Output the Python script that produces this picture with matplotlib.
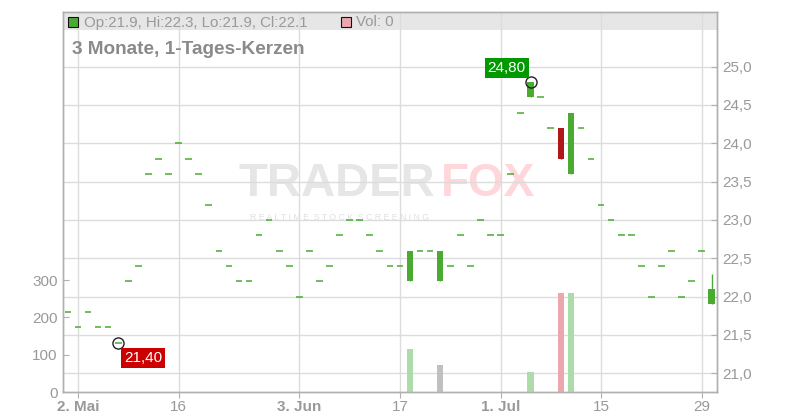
import matplotlib
matplotlib.use("Agg")
import matplotlib.pyplot as plt
from matplotlib.patches import Rectangle
import numpy as np

plt.rcParams['font.family'] = ['Liberation Sans', 'DejaVu Sans']

# ---- data (one entry per trading day, 30 Apr 2024 .. 30 Jul 2024) ----
opens = [21.8, 21.6, 21.8, 21.6, 21.6, 21.4, 22.2, 22.4, 23.6, 23.8, 23.6, 24.0, 23.8,
         23.6, 23.2, 22.6, 22.4, 22.2, 22.2, 22.8, 23.0, 22.6, 22.4, 22.0, 22.6, 22.2,
         22.4, 22.8, 23.0, 23.0, 22.8, 22.6, 22.4, 22.4, 22.2, 22.6, 22.6, 22.2, 22.4,
         22.8, 22.4, 23.0, 22.8, 22.8, 23.6, 24.4, 24.6, 24.6, 24.2, 24.2, 23.6, 24.2,
         23.8, 23.2, 23.0, 22.8, 22.8, 22.4, 22.0, 22.4, 22.6, 22.0, 22.2, 22.6, 21.9]
highs = [21.8, 21.6, 21.8, 21.6, 21.6, 21.4, 22.2, 22.4, 23.6, 23.8, 23.6, 24.0, 23.8,
         23.6, 23.2, 22.6, 22.4, 22.2, 22.2, 22.8, 23.0, 22.6, 22.4, 22.0, 22.6, 22.2,
         22.4, 22.8, 23.0, 23.0, 22.8, 22.6, 22.4, 22.4, 22.6, 22.6, 22.6, 22.6, 22.4,
         22.8, 22.4, 23.0, 22.8, 22.8, 23.6, 24.4, 24.8, 24.6, 24.2, 24.2, 24.4, 24.2,
         23.8, 23.2, 23.0, 22.8, 22.8, 22.4, 22.0, 22.4, 22.6, 22.0, 22.2, 22.6, 22.3]
lows = [21.8, 21.6, 21.8, 21.6, 21.6, 21.4, 22.2, 22.4, 23.6, 23.8, 23.6, 24.0, 23.8,
        23.6, 23.2, 22.6, 22.4, 22.2, 22.2, 22.8, 23.0, 22.6, 22.4, 22.0, 22.6, 22.2,
        22.4, 22.8, 23.0, 23.0, 22.8, 22.6, 22.4, 22.4, 22.2, 22.6, 22.6, 22.2, 22.4,
        22.8, 22.4, 23.0, 22.8, 22.8, 23.6, 24.4, 24.6, 24.6, 24.2, 23.8, 23.6, 24.2,
        23.8, 23.2, 23.0, 22.8, 22.8, 22.4, 22.0, 22.4, 22.6, 22.0, 22.2, 22.6, 21.9]
closes = [21.8, 21.6, 21.8, 21.6, 21.6, 21.4, 22.2, 22.4, 23.6, 23.8, 23.6, 24.0, 23.8,
          23.6, 23.2, 22.6, 22.4, 22.2, 22.2, 22.8, 23.0, 22.6, 22.4, 22.0, 22.6, 22.2,
          22.4, 22.8, 23.0, 23.0, 22.8, 22.6, 22.4, 22.4, 22.6, 22.6, 22.6, 22.6, 22.4,
          22.8, 22.4, 23.0, 22.8, 22.8, 23.6, 24.4, 24.8, 24.6, 24.2, 23.8, 24.4, 24.2,
          23.8, 23.2, 23.0, 22.8, 22.8, 22.4, 22.0, 22.4, 22.6, 22.0, 22.2, 22.6, 22.1]
volumes = [0, 0, 0, 0, 0, 0, 0, 0, 0, 0, 0, 0, 0,
           0, 0, 0, 0, 0, 0, 0, 0, 0, 0, 0, 0, 0,
           0, 0, 0, 0, 0, 0, 0, 0, 116, 0, 0, 73, 0,
           0, 0, 0, 0, 0, 0, 0, 54, 0, 0, 266, 266, 0,
           0, 0, 0, 0, 0, 0, 0, 0, 0, 0, 0, 0, 0]
first_day = -1  # 30 Apr sits one trading day before 2 May
tick_days = [0, 10, 22, 32, 42, 52, 62]
tick_labels = ["2. Mai", "16", "3. Jun", "17", "1. Jul", "15", "29"]
tick_bold = [True, False, True, False, True, False, False]
price_ticks = [21.0, 21.5, 22.0, 22.5, 23.0, 23.5, 24.0, 24.5, 25.0]
vol_ticks = [0, 100, 200, 300]
title = "3 Monate, 1-Tages-Kerzen"
header_ohlc = "Op:21.9, Hi:22.3, Lo:21.9, Cl:22.1"
header_vol = "Vol: 0"
low_label = "21,40"
high_label = "24,80"

# ---- style ----
GREEN = "#4aaa32"
RED = "#b01818"
VGREEN = "#acdcaa"
VRED = "#eca6ae"
VGRAY = "#c0c0c0"
GRID = "#dcdcdc"
SPINE = "#b0b0b0"
TXT = "#999999"

x = np.arange(len(closes)) + first_day
o = np.array(opens); h = np.array(highs); l = np.array(lows); c = np.array(closes)
v = np.array(volumes)

fig = plt.figure(figsize=(8, 4.2), dpi=100)
W, H = 800, 420
L, R, T, B = 63.3, 716.7, 11.7, 392.0
ax = fig.add_axes([L / W, (H - B) / H, (R - L) / W, (B - T) / H])
axv = ax.twinx()

ax.set_xlim(-1.46, 63.49)
ax.set_ylim(20.756, 25.717)
axv.set_ylim(0, 1020)

# header band
ax.add_patch(Rectangle((0, (B - 30) / (B - T)), 1, 1 - (B - 30) / (B - T),
                       transform=ax.transAxes, facecolor="#e6e6e6",
                       edgecolor="none", zorder=0.1))

# grid
ax.set_axisbelow(True)
ax.grid(True, color=GRID, linewidth=1.0)

# watermark
ax.text(0.268, 0.5155, "TRADER", transform=ax.transAxes, fontsize=34, fontweight="bold",
        color="#e6e6e6", ha="left", va="baseline", zorder=0.3)
ax.text(0.578, 0.5155, "FOX", transform=ax.transAxes, fontsize=33, fontweight="bold",
        color="#ffd6da", ha="left", va="baseline", zorder=0.3)
ax.text(0.286, 0.453, "R E A L T I M E  S T O C K  S C R E E N I N G",
        transform=ax.transAxes, fontsize=6.3, color="#e0e0e0", ha="left",
        va="baseline", zorder=0.3)

# candles
cw = 0.66
up = c >= o
flat = o == c
cols = np.where(up, GREEN, RED)
ax.vlines(x[~flat], l[~flat], h[~flat], colors=cols[~flat], linewidth=1.0, zorder=3)
ax.bar(x[~flat], np.abs(c - o)[~flat], bottom=np.minimum(o, c)[~flat], width=cw,
       color=cols[~flat], linewidth=0, zorder=3)
ax.hlines(c[flat], x[flat] - cw / 2, x[flat] + cw / 2, colors=cols[flat],
          linewidth=1.1, zorder=3)

# volume
prev = np.concatenate([[c[0]], c[:-1]])
vcols = np.where(c > prev, VGREEN, np.where(c < prev, VRED, VGRAY))
axv.bar(x[v > 0], v[v > 0], width=cw, color=vcols[v > 0], linewidth=0, zorder=2)

# axes styling
ax.yaxis.tick_right()
axv.yaxis.tick_left()
ax.set_yticks(price_ticks)
ax.set_yticklabels([f"{p:.1f}".replace(".", ",") for p in price_ticks])
axv.set_yticks(vol_ticks)
axv.set_yticklabels([str(t) for t in vol_ticks])
ax.set_xticks(tick_days)
ax.set_xticklabels(tick_labels)
for lab, b in zip(ax.get_xticklabels(), tick_bold):
    if b:
        lab.set_fontweight("bold")
ax.tick_params(axis="y", direction="in", length=4, color=SPINE, labelcolor=TXT,
               labelsize=11, pad=4)
axv.tick_params(axis="y", direction="in", length=4, color=SPINE, labelcolor=TXT,
                labelsize=11, pad=4)
ax.tick_params(axis="x", direction="out", length=4, color=SPINE, labelcolor=TXT,
               labelsize=11, pad=2)
for a in (ax, axv):
    for s in a.spines.values():
        s.set_color(SPINE)
        s.set_linewidth(1.0)
axv.patch.set_visible(False)

# extreme markers
imin = int(np.argmin(l)); imax = int(np.argmax(h))
for xi, yi in ((x[imin], l[imin]), (x[imax], h[imax])):
    ax.plot([xi], [yi], marker="o", markersize=8, markerfacecolor="none",
            markeredgecolor="#222222", markeredgewidth=1.0, zorder=5)
ax.annotate(low_label, xy=(x[imin], l[imin]), xytext=(6, -8), textcoords="offset pixels",
            ha="left", va="top", color="white", fontsize=11, zorder=6,
            bbox=dict(boxstyle="square,pad=0.2", fc="#cc0000", ec="none"))
ax.annotate(high_label, xy=(x[imax], h[imax]), xytext=(-5, 7), textcoords="offset pixels",
            ha="right", va="bottom", color="white", fontsize=11, zorder=6,
            bbox=dict(boxstyle="square,pad=0.2", fc="#009a00", ec="none"))

# header texts
fig.patches.append(Rectangle((68.3 / W, (H - 26.7) / H), 10 / W, 10 / H,
                             transform=fig.transFigure, facecolor=GREEN,
                             edgecolor="#111111", linewidth=0.8, zorder=10))
fig.text(84 / W, (H - 21) / H, header_ohlc, fontsize=10.8, color=TXT, ha="left",
         va="center_baseline")
fig.patches.append(Rectangle((340.7 / W, (H - 26.7) / H), 10 / W, 10 / H,
                             transform=fig.transFigure, facecolor=VRED,
                             edgecolor="#111111", linewidth=0.8, zorder=10))
fig.text(356 / W, (H - 21) / H, header_vol, fontsize=10.8, color=TXT, ha="left",
         va="center_baseline")
fig.text(72 / W, (H - 47) / H, title, fontsize=13.7, fontweight="bold", color="#8a8a8a",
         ha="left", va="center_baseline")

fig.savefig("out.png", dpi=100)
